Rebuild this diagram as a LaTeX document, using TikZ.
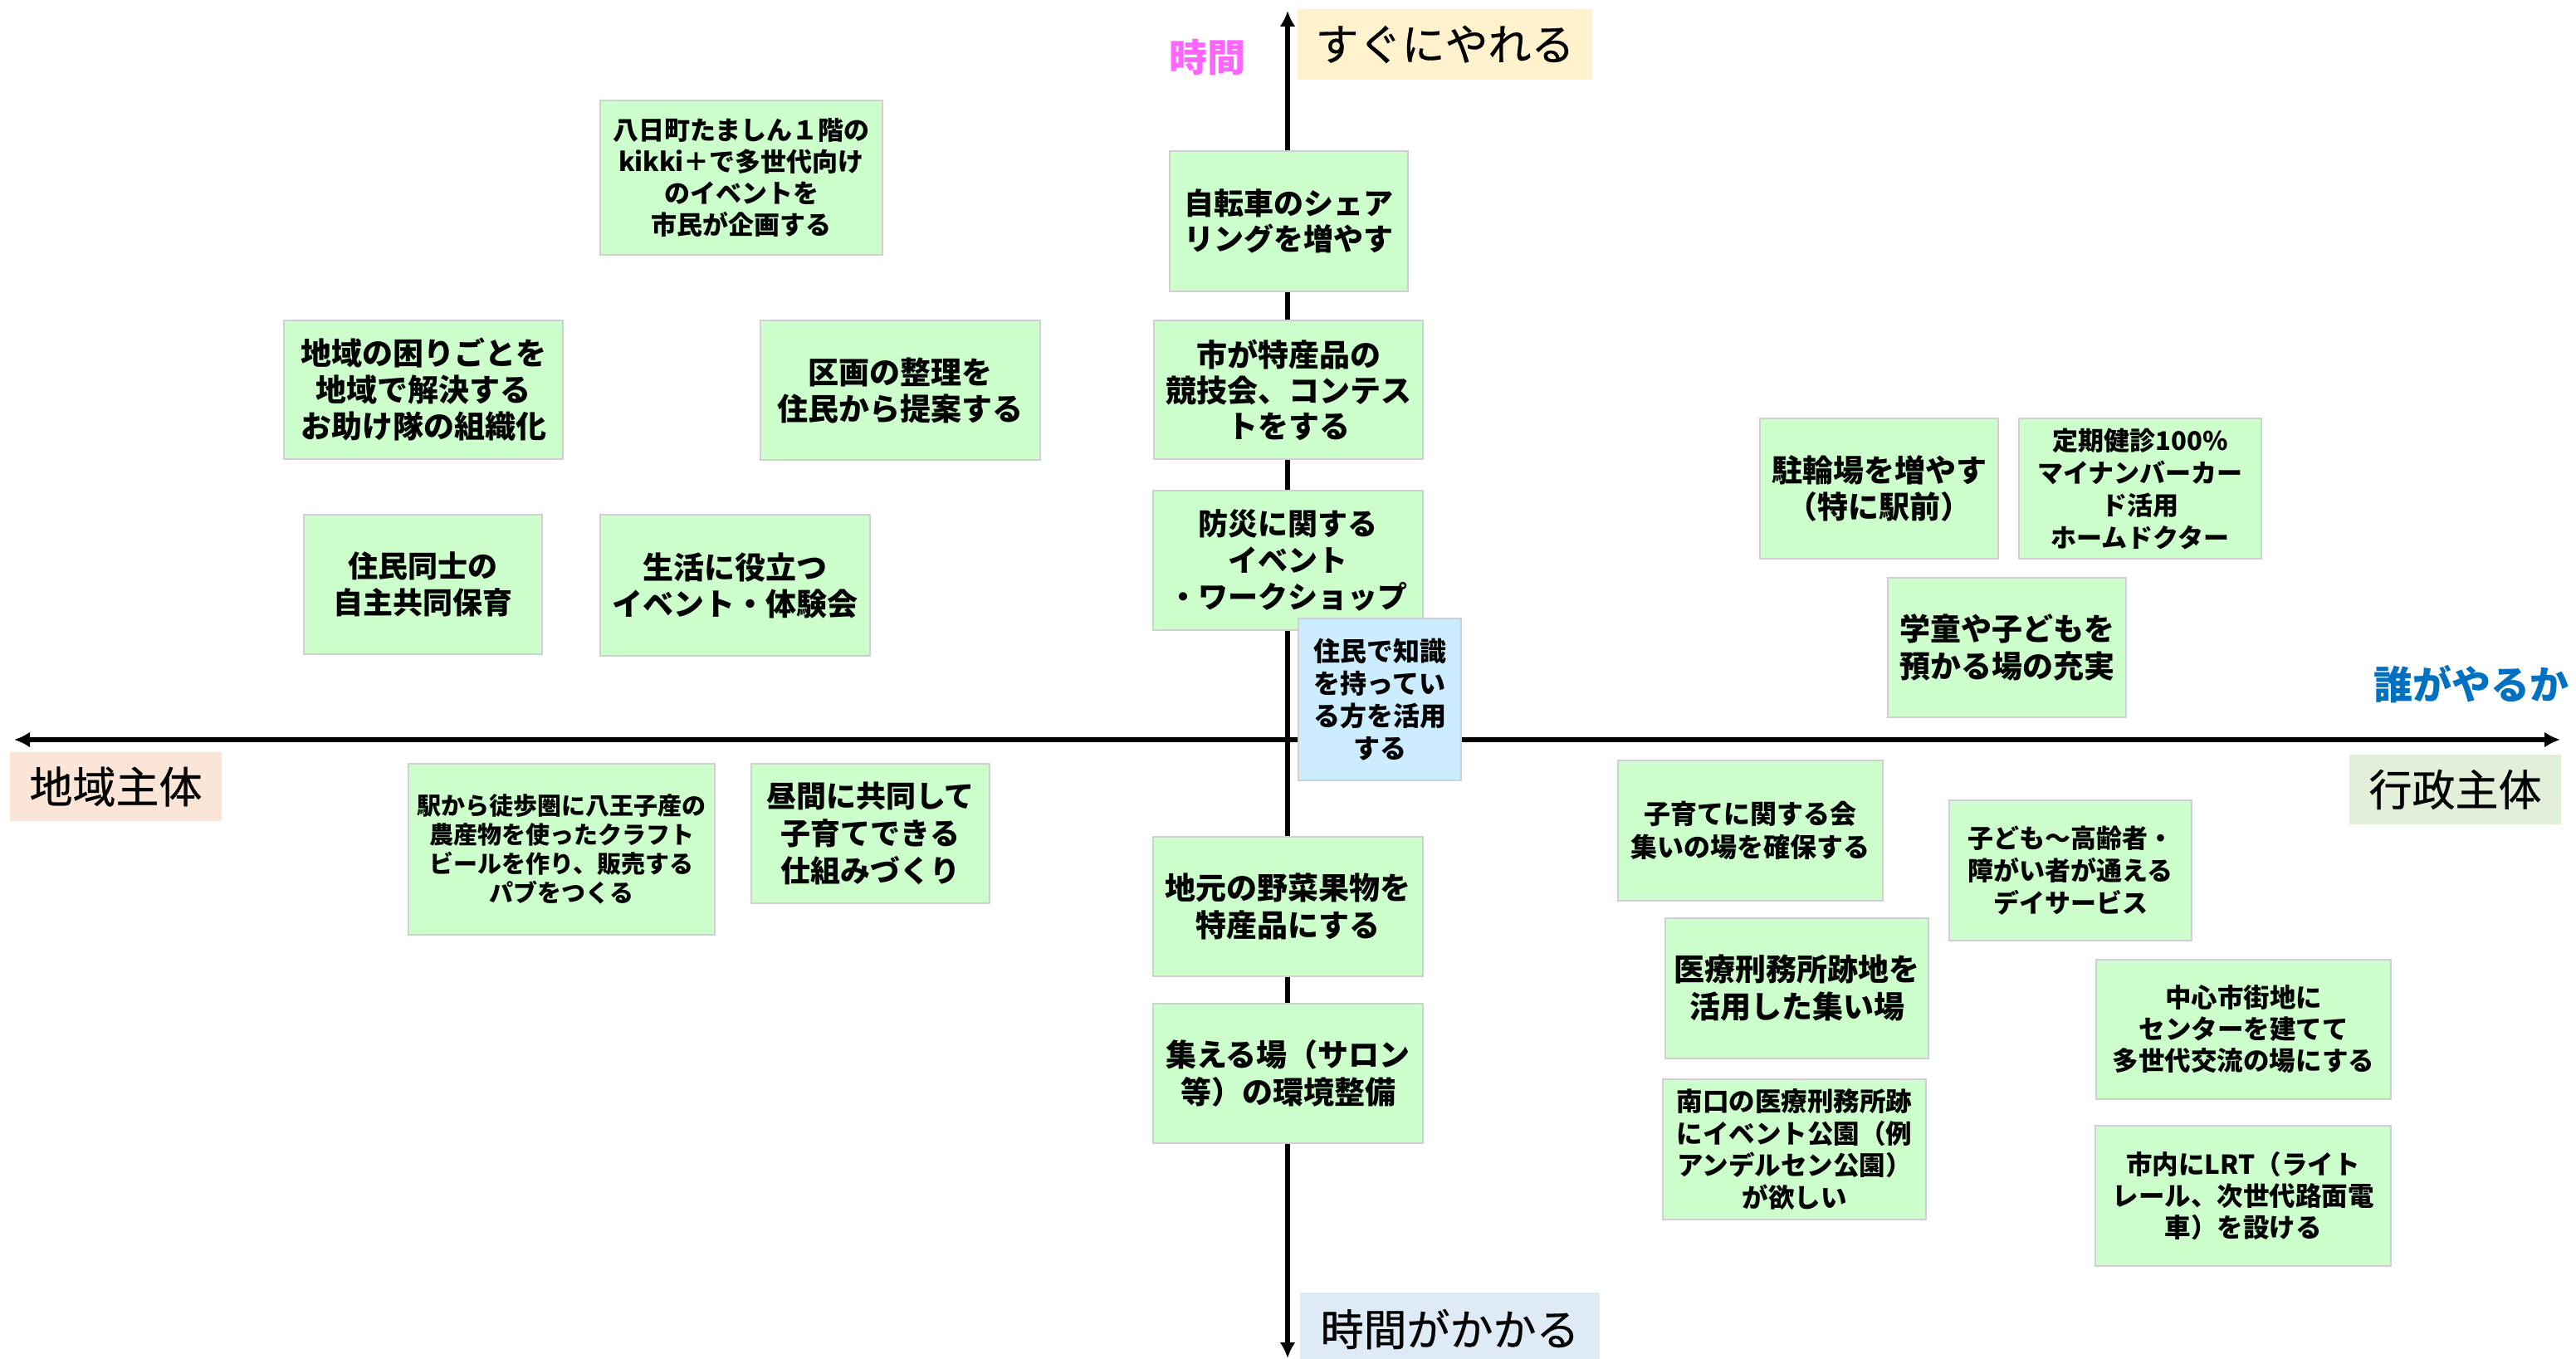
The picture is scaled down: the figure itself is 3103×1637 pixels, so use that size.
\documentclass[tikz,border=0pt]{standalone}
\usepackage{fontspec}
\newfontfamily\jp{Noto Sans CJK JP}
\newfontfamily\jpm{Noto Sans CJK JP}[FakeBold=0.6]
\usetikzlibrary{arrows.meta}
\definecolor{boxgreen}{HTML}{CCFFCC}
\definecolor{boxblue}{HTML}{CCECFF}
\definecolor{boxline}{HTML}{D0D0D0}
\definecolor{soonfill}{HTML}{FFF2CC}
\definecolor{laterfill}{HTML}{DEEBF7}
\definecolor{localfill}{HTML}{FBE5D6}
\definecolor{govfill}{HTML}{E2F0D9}
\definecolor{timepink}{HTML}{FF66FF}
\definecolor{whoblue}{HTML}{0070C0}
\tikzset{
  idea/.style={draw=boxline, fill=boxgreen, line width=2pt, inner sep=0pt, align=center},
  ideablue/.style={idea, fill=boxblue},
  axlabel/.style={inner sep=0pt, align=center, font=\jpm\fontsize{52pt}{60pt}\selectfont},
  axisline/.style={line width=6.5pt, -{Latex[length=19pt,width=19pt]}},
}
\newcommand\fsz[2]{\fontsize{#1pt}{#2pt}\selectfont}
\begin{document}
\begin{tikzpicture}[x=1pt,y=-1pt]
\useasboundingbox (0,0) rectangle (3103,1637);
\fill[white] (0,0) rectangle (3103,1637);
% axes
\coordinate (O) at (1551,891);
\coordinate (L) at (17,891);
\coordinate (R) at (3084,891);
\coordinate (T) at (1551,13);
\coordinate (B) at (1551,1636);
\draw[axisline] (O) -- (L);
\draw[axisline] (O) -- (R);
\draw[axisline] (O) -- (T);
\draw[axisline] (O) -- (B);
% axis labels
\node[axlabel, fill=soonfill, minimum width=355pt, minimum height=85pt] (soon) at (1740.5,53.5) {すぐにやれる};
\node[axlabel, fill=laterfill, minimum width=361pt, minimum height=88pt] (later) at (1746.5,1601) {時間がかかる};
\node[axlabel, fill=localfill, minimum width=255pt, minimum height=83pt] (local) at (139.5,947.5) {地域主体};
\node[axlabel, fill=govfill, minimum width=255pt, minimum height=84pt] (gov) at (2957.5,951) {行政主体};
\node[inner sep=0pt, text=timepink, font=\jp\bfseries\fsz{46}{50}] (time) at (1454,69) {時間};
\node[inner sep=0pt, text=whoblue, font=\jp\bfseries\fsz{47}{52}] (who) at (2977,824) {誰がやるか};
% ideas
\node[idea, minimum width=340pt, minimum height=186pt, font=\jp\bfseries\fsz{31}{38}] (yokaichi) at (893,214) {八日町たましん１階の\\kikki＋で多世代向け\\のイベントを\\市民が企画する};
\node[idea, minimum width=336pt, minimum height=167pt, font=\jp\bfseries\fsz{37}{44}] (komari) at (510,469.5) {地域の困りごとを\\地域で解決する\\お助け隊の組織化};
\node[idea, minimum width=337pt, minimum height=168pt, font=\jp\bfseries\fsz{37}{44}] (kukaku) at (1084.5,470) {区画の整理を\\住民から提案する};
\node[idea, minimum width=287pt, minimum height=169pt, font=\jp\bfseries\fsz{36}{43}] (jitensha) at (1552.5,266.5) {自転車のシェア\\リングを増やす};
\node[idea, minimum width=324pt, minimum height=167pt, font=\jp\bfseries\fsz{37}{43}] (tokusan) at (1552,469.5) {市が特産品の\\競技会、コンテス\\トをする};
\node[idea, minimum width=325pt, minimum height=168pt, font=\jp\bfseries\fsz{36}{44}] (bousai) at (1551.5,675) {防災に関する\\イベント\\・ワークショップ};
\node[ideablue, minimum width=196pt, minimum height=195pt, font=\jp\bfseries\fsz{32}{39}] (chishiki) at (1662,842.5) {住民で知識\\を持ってい\\る方を活用\\する};
\node[idea, minimum width=325pt, minimum height=168pt, font=\jp\bfseries\fsz{37}{45}] (jimoto) at (1551.5,1092) {地元の野菜果物を\\特産品にする};
\node[idea, minimum width=325pt, minimum height=168pt, font=\jp\bfseries\fsz{37}{45}] (salon) at (1551.5,1293) {集える場（サロン\\等）の環境整備};
\node[idea, minimum width=287pt, minimum height=169pt, font=\jp\bfseries\fsz{37}{44}] (churin) at (2263.5,588.5) {駐輪場を増やす\\（特に駅前）};
\node[idea, minimum width=292pt, minimum height=169pt, font=\jp\bfseries\fsz{31}{39}] (kenshin) at (2578,588.5) {定期健診100\%\\マイナンバーカー\\ド活用\\ホームドクター};
\node[idea, minimum width=287pt, minimum height=168pt, font=\jp\bfseries\fsz{37}{45}] (gakudo) at (2417.5,780) {学童や子どもを\\預かる場の充実};
\node[idea, minimum width=287pt, minimum height=168pt, font=\jp\bfseries\fsz{36}{44}] (hoiku) at (509.5,704) {住民同士の\\自主共同保育};
\node[idea, minimum width=325pt, minimum height=170pt, font=\jp\bfseries\fsz{37}{44}] (seikatsu) at (885.5,705) {生活に役立つ\\イベント・体験会};
\node[idea, minimum width=369pt, minimum height=206pt, font=\jp\bfseries\fsz{29}{35}] (beer) at (676.5,1023) {駅から徒歩圏に八王子産の\\農産物を使ったクラフト\\ビールを作り、販売する\\パブをつくる};
\node[idea, minimum width=287pt, minimum height=168pt, font=\jp\bfseries\fsz{36}{45}] (hiruma) at (1048.5,1004) {昼間に共同して\\子育てできる\\仕組みづくり};
\node[idea, minimum width=319pt, minimum height=169pt, font=\jp\bfseries\fsz{32}{40}] (kosodate) at (2108.5,1000.5) {子育てに関する会\\集いの場を確保する};
\node[idea, minimum width=292pt, minimum height=169pt, font=\jp\bfseries\fsz{31}{39}] (day) at (2494,1048.5) {子ども〜高齢者・\\障がい者が通える\\デイサービス};
\node[idea, minimum width=317pt, minimum height=169pt, font=\jp\bfseries\fsz{37}{45}] (iryo) at (2164.5,1190.5) {医療刑務所跡地を\\活用した集い場};
\node[idea, minimum width=355pt, minimum height=168pt, font=\jp\bfseries\fsz{31.5}{38}] (center) at (2702.5,1240) {中心市街地に\\センターを建てて\\多世代交流の場にする};
\node[idea, minimum width=317pt, minimum height=169pt, font=\jp\bfseries\fsz{31.5}{38.5}] (park) at (2161.5,1384.5) {南口の医療刑務所跡\\にイベント公園（例\\アンデルセン公園）\\が欲しい};
\node[idea, minimum width=356pt, minimum height=169pt, font=\jp\bfseries\fsz{31.5}{38}] (lrt) at (2702,1440.5) {市内にLRT（ライト\\レール、次世代路面電\\車）を設ける};
\end{tikzpicture}
\end{document}
